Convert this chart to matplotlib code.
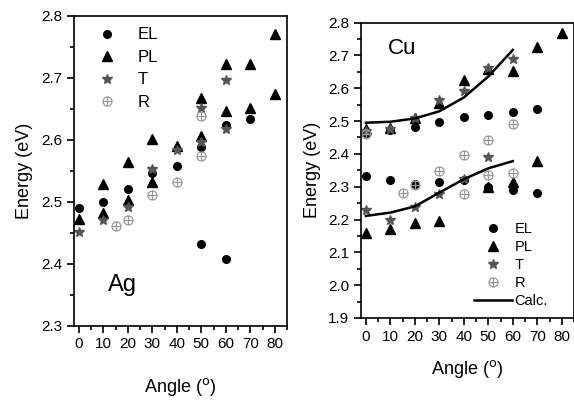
import matplotlib.pyplot as plt
from matplotlib.path import Path
from matplotlib.ticker import MultipleLocator

plt.rcParams['font.family'] = ['Liberation Sans', 'DejaVu Sans']

# ---- Ag panel data ----
ag_el_x = [0, 10, 20, 30, 40, 50, 50, 60, 60, 70]
ag_el_y = [2.490, 2.500, 2.520, 2.547, 2.557, 2.589, 2.432, 2.623, 2.408, 2.633]
ag_pl_x = [0, 10, 10, 20, 20, 30, 30, 40, 50, 50, 60, 60, 70, 70, 80, 80]
ag_pl_y = [2.472, 2.528, 2.482, 2.564, 2.502, 2.601, 2.532, 2.590, 2.668, 2.606,
           2.722, 2.646, 2.722, 2.652, 2.770, 2.674]
ag_t_x = [0, 10, 20, 30, 40, 50, 50, 60, 60]
ag_t_y = [2.451, 2.470, 2.491, 2.553, 2.583, 2.651, 2.596, 2.696, 2.617]
ag_r_x = [15, 20, 30, 40, 50, 50]
ag_r_y = [2.461, 2.470, 2.511, 2.531, 2.639, 2.574]

# ---- Cu panel data ----
cu_el_x = [0, 10, 20, 30, 40, 50, 60, 70, 0, 10, 20, 30, 40, 50, 60, 70]
cu_el_y = [2.463, 2.473, 2.483, 2.496, 2.512, 2.519, 2.528, 2.537,
           2.333, 2.319, 2.308, 2.313, 2.320, 2.300, 2.290, 2.280]
cu_pl_x = [0, 10, 20, 30, 40, 50, 60, 70, 80, 0, 10, 20, 30, 50, 60, 70]
cu_pl_y = [2.476, 2.480, 2.508, 2.556, 2.625, 2.659, 2.654, 2.727, 2.768,
           2.158, 2.170, 2.188, 2.196, 2.300, 2.315, 2.379]
cu_t_x = [0, 10, 20, 30, 40, 50, 60, 0, 10, 20, 30, 40, 50]
cu_t_y = [2.470, 2.475, 2.510, 2.564, 2.593, 2.661, 2.688,
          2.229, 2.199, 2.239, 2.278, 2.325, 2.391]
cu_r_x = [0, 15, 20, 30, 40, 40, 50, 50, 60, 60]
cu_r_y = [2.460, 2.280, 2.305, 2.349, 2.396, 2.278, 2.442, 2.337, 2.491, 2.341]
calc_x = [0, 10, 20, 30, 40, 50, 60]
calc_up = [2.495, 2.498, 2.508, 2.530, 2.572, 2.636, 2.717]
calc_lo = [2.211, 2.221, 2.240, 2.282, 2.323, 2.356, 2.378]

# open circle with a cross inside, for the R series
circ_plus = Path.make_compound_path(
    Path.unit_circle(),
    Path([[-1, 0], [1, 0]], [Path.MOVETO, Path.LINETO]),
    Path([[0, -1], [0, 1]], [Path.MOVETO, Path.LINETO]),
)

fig = plt.figure(figsize=(5.74, 4.05), dpi=100)
ax1 = fig.add_axes([0.129, 0.196, 0.371, 0.765])
ax2 = fig.add_axes([0.629, 0.215, 0.371, 0.729])

ms = 5.5
star_c = '#555555'
r_c = '#9a9a9a'


def draw_points(ax, el, pl, t, r):
    ax.plot(*el, 'o', color='black', ms=ms, label='EL')
    ax.plot(*pl, '^', color='black', ms=ms + 1, label='PL')
    ax.plot(*t, '*', color=star_c, ms=ms + 1.5, label='T')
    ax.plot(*r, marker=circ_plus, ls='none', mfc='none', mec=r_c, mew=0.9,
            ms=ms + 1, label='R')


def style(ax, ylim, xpad, ypad):
    ax.set_xlim(-2, 85)
    ax.set_ylim(*ylim)
    ax.xaxis.set_major_locator(MultipleLocator(10))
    ax.xaxis.set_minor_locator(MultipleLocator(5))
    ax.yaxis.set_major_locator(MultipleLocator(0.1))
    ax.yaxis.set_minor_locator(MultipleLocator(0.05))
    ax.yaxis.set_major_formatter(plt.FormatStrFormatter('%.1f'))
    ax.tick_params(which='major', length=5, width=1.2, labelsize=11)
    ax.tick_params(which='minor', length=3, width=1.2)
    for s in ax.spines.values():
        s.set_linewidth(1.2)
    ax.set_xlabel('Angle ($^{\\rm o}$)', fontsize=13, labelpad=xpad)
    ax.set_ylabel('Energy (eV)', fontsize=13, labelpad=ypad)


draw_points(ax1, (ag_el_x, ag_el_y), (ag_pl_x, ag_pl_y), (ag_t_x, ag_t_y), (ag_r_x, ag_r_y))
style(ax1, (2.3, 2.8), 18, 6)
ax1.text(12, 2.365, 'Ag', fontsize=17, va='center')
ax1.legend(loc='upper left', bbox_to_anchor=(0.054, 1.0), frameon=False, fontsize=12,
           handlelength=1.2, handletextpad=1.25, labelspacing=0.45, borderaxespad=0.3)

draw_points(ax2, (cu_el_x, cu_el_y), (cu_pl_x, cu_pl_y), (cu_t_x, cu_t_y), (cu_r_x, cu_r_y))
ax2.plot(calc_x, calc_up, color='black', lw=1.8, label='Calc.')
ax2.plot(calc_x, calc_lo, color='black', lw=1.8)
style(ax2, (1.9, 2.8), 10, 5)
ax2.text(9, 2.72, 'Cu', fontsize=16, va='center')
ax2.legend(loc='lower right', bbox_to_anchor=(0.925, 0.0), frameon=False, fontsize=10.5,
           handlelength=2.6, handletextpad=0.15, labelspacing=0.27, borderaxespad=0.3)

fig.savefig('out.png', dpi=100)
